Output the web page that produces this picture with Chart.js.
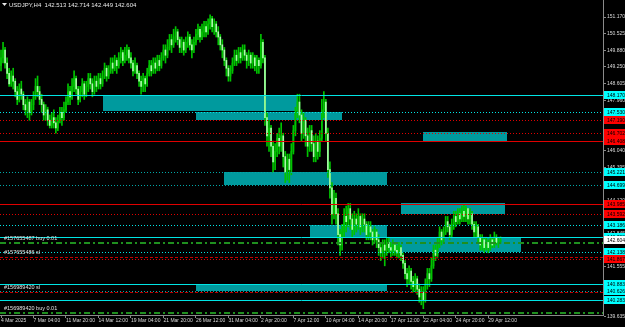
<!DOCTYPE html>
<html><head><meta charset="utf-8">
<script src="https://cdn.jsdelivr.net/npm/chart.js@4.4.1/dist/chart.umd.min.js"></script>
<style>html,body{margin:0;padding:0;background:#000;overflow:hidden}canvas{display:block}</style>
</head><body>
<canvas id="c" width="625" height="327"></canvas>
<script>
// ---------- DATA ----------
const symbolTitle = "USDJPY,H4";
const lastOHLC = [142.513, 142.714, 142.449, 142.604];
const xTickLabels = ["4 Mar 2025","7 Mar 04:00","11 Mar 20:00","14 Mar 12:00","19 Mar 04:00","21 Mar 20:00","26 Mar 12:00","31 Mar 04:00","2 Apr 20:00","7 Apr 12:00","10 Apr 04:00","14 Apr 20:00","17 Apr 12:00","22 Apr 04:00","24 Apr 20:00","29 Apr 12:00"];
const yTickValues = [151.170,150.525,149.880,149.250,148.605,147.960,147.330,146.685,146.040,145.395,144.765,144.120,143.475,142.845,142.200,141.555,140.910,140.280,139.635];

const opens = [149.3,149.6,149.9,149.4,149.0,148.6,148.9,148.7,148.3,148.0,148.4,148.2,147.8,147.6,147.9,147.5,
147.8,148.1,148.5,148.3,148.0,147.8,147.4,147.6,147.2,147.0,147.3,147.1,146.9,147.2,147.5,147.3,
147.6,147.9,148.3,148.1,148.5,148.8,148.4,148.0,148.3,148.6,148.2,148.5,148.8,148.6,148.3,148.7,
148.5,148.8,148.6,148.9,149.2,148.9,149.1,149.4,149.2,149.5,149.3,149.6,149.8,149.5,149.7,149.9,
149.6,149.4,149.1,149.3,149.0,148.7,148.5,148.8,148.6,149.0,149.3,149.1,149.4,149.2,149.5,149.3,
149.6,149.9,149.7,150.0,150.3,150.1,150.4,150.6,150.3,150.0,150.2,149.9,150.2,150.4,150.1,149.9,
150.2,150.5,150.7,150.4,150.6,150.8,150.6,150.9,151.1,150.8,150.9,150.6,150.4,150.1,149.9,149.5,
149.2,148.9,149.1,149.4,149.7,149.5,149.8,149.6,149.9,149.7,149.5,149.7,149.4,149.6,149.3,149.5,
149.3,150.2,149.6,147.3,146.6,146.9,146.2,145.6,146.0,146.5,146.2,146.6,145.8,145.2,145.7,145.3,
146.0,146.8,147.5,147.9,147.4,146.7,147.2,146.6,146.2,146.8,146.3,145.8,146.4,146.0,146.5,147.6,
147.9,146.7,145.3,144.6,143.6,144.2,143.6,142.8,142.4,142.9,143.5,143.3,143.8,143.4,143.0,143.4,
143.2,143.5,143.1,143.4,143.2,142.8,143.1,142.9,142.6,142.9,142.6,142.3,142.1,142.4,142.2,142.5,
142.3,142.2,142.4,142.2,142.1,142.3,142.0,141.7,141.3,141.1,141.4,141.0,140.8,141.1,140.7,140.4,
140.6,140.3,140.9,141.3,141.1,141.6,142.2,142.0,142.5,142.9,142.6,142.9,143.3,143.1,142.8,143.2,
143.5,143.3,143.6,143.4,143.7,143.5,143.8,143.4,143.6,143.2,142.9,143.1,142.7,142.4,142.6,142.3,
142.5,142.3,142.6,142.4,142.7,142.5,142.513];

const highs = [149.9,150.2,150.0,149.6,149.2,149.1,149.2,148.8,148.5,148.6,148.7,148.3,148.0,148.1,148.0,148.0,
148.3,148.8,148.9,148.5,148.2,147.9,147.8,147.7,147.4,147.5,147.6,147.3,147.4,147.7,147.7,147.9,
148.1,148.6,148.5,148.8,149.1,148.9,148.5,148.5,148.8,148.7,148.7,149.0,149.0,148.8,148.9,148.9,
149.0,149.0,149.1,149.4,149.3,149.3,149.6,149.6,149.7,149.6,149.8,150.0,149.9,150.0,150.1,150.0,
149.8,149.5,149.6,149.4,149.1,148.9,149.0,148.9,149.2,149.5,149.5,149.6,149.6,149.7,149.7,149.8,
150.1,150.1,150.3,150.5,150.5,150.7,150.8,150.7,150.4,150.4,150.3,150.4,150.6,150.5,150.3,150.4,
150.7,150.9,150.8,150.9,151.0,151.0,151.1,151.25,151.2,151.1,151.0,150.8,150.5,150.3,150.0,149.6,
149.3,149.3,149.6,149.9,149.9,150.0,150.0,150.1,150.1,149.8,149.9,149.8,149.8,149.7,149.7,149.6,
150.5,150.3,149.7,147.5,147.2,147.0,146.4,146.3,146.7,146.9,147.1,146.7,146.0,145.9,145.9,146.3,
147.0,147.7,148.2,148.2,147.6,147.5,147.3,146.9,147.0,147.0,146.6,146.7,146.6,146.8,148.0,148.3,
148.0,146.9,145.6,144.8,144.5,144.4,143.8,143.0,143.2,143.8,143.9,144.0,144.0,143.6,143.7,143.6,
143.8,143.6,143.6,143.6,143.3,143.3,143.3,143.0,143.1,143.0,142.8,142.5,142.6,142.6,142.7,142.7,
142.5,142.6,142.5,142.4,142.5,142.4,142.1,141.8,141.5,141.6,141.5,141.2,141.3,141.2,140.9,140.8,
140.8,141.1,141.5,141.5,141.9,142.4,142.4,142.7,143.1,143.0,143.1,143.5,143.5,143.2,143.4,143.7,
143.7,143.8,143.8,143.9,143.95,143.9,143.8,143.8,143.7,143.3,143.3,143.2,142.8,142.8,142.7,142.7,
142.6,142.8,142.7,142.9,142.8,142.7,142.714];

const lows = [149.1,149.4,149.2,148.8,148.5,148.5,148.4,148.1,147.8,147.9,148.0,147.6,147.4,147.3,147.2,147.4,
147.6,148.0,148.1,147.8,147.5,147.2,147.2,147.0,146.9,146.9,146.9,146.7,146.8,147.1,147.0,147.2,
147.5,147.8,147.8,148.0,148.3,148.2,147.8,147.9,148.1,148.0,148.1,148.3,148.4,148.1,148.2,148.3,
148.4,148.4,148.5,148.8,148.7,148.8,149.0,149.0,149.1,149.0,149.2,149.4,149.3,149.4,149.5,149.4,
149.2,148.9,149.0,148.8,148.5,148.2,148.3,148.3,148.5,148.9,148.9,149.0,149.0,149.1,149.1,149.2,
149.5,149.4,149.6,149.9,149.8,150.0,150.2,150.1,149.8,149.8,149.7,149.8,150.0,149.9,149.6,149.8,
150.1,150.3,150.2,150.3,150.4,150.4,150.5,150.7,150.6,150.5,150.4,150.1,149.9,149.6,149.3,148.9,
148.7,148.7,149.0,149.3,149.3,149.4,149.4,149.5,149.5,149.2,149.3,149.2,149.2,149.1,149.0,149.0,
149.2,149.4,147.0,146.2,146.0,145.8,145.2,145.3,145.8,145.9,146.0,145.4,144.8,144.9,144.8,145.1,
145.9,146.6,147.3,147.1,146.4,146.5,146.2,145.8,146.0,146.0,145.6,145.6,145.7,145.8,146.4,147.3,
146.4,145.0,144.2,143.2,143.4,143.2,142.4,142.0,142.2,142.7,142.9,143.1,143.0,142.7,142.8,142.9,
143.0,142.8,142.9,142.9,142.6,142.6,142.6,142.4,142.5,142.3,142.0,141.8,141.9,141.6,142.0,142.1,
141.9,142.0,142.0,141.9,141.9,141.8,141.5,141.1,140.8,140.9,140.7,140.6,140.6,140.5,140.2,140.1,
139.95,140.2,140.7,140.8,141.0,141.5,141.8,141.9,142.3,142.4,142.5,142.8,142.9,142.6,142.7,143.0,
143.1,143.2,143.2,143.3,143.3,143.3,143.2,143.2,143.0,142.7,142.7,142.5,142.2,142.2,142.1,142.2,
142.1,142.2,142.3,142.3,142.4,142.3,142.449];

const closes = [149.6,149.9,149.4,149.0,148.6,148.9,148.7,148.3,148.0,148.4,148.2,147.8,147.6,147.9,147.5,147.8,
148.1,148.5,148.3,148.0,147.8,147.4,147.6,147.2,147.0,147.3,147.1,146.9,147.2,147.5,147.3,147.6,
147.9,148.3,148.1,148.5,148.8,148.4,148.0,148.3,148.6,148.2,148.5,148.8,148.6,148.3,148.7,148.5,
148.8,148.6,148.9,149.2,148.9,149.1,149.4,149.2,149.5,149.3,149.6,149.8,149.5,149.7,149.9,149.6,
149.4,149.1,149.3,149.0,148.7,148.5,148.8,148.6,149.0,149.3,149.1,149.4,149.2,149.5,149.3,149.6,
149.9,149.7,150.0,150.3,150.1,150.4,150.6,150.3,150.0,150.2,149.9,150.2,150.4,150.1,149.9,150.2,
150.5,150.7,150.4,150.6,150.8,150.6,150.9,151.1,150.8,150.9,150.6,150.4,150.1,149.9,149.5,149.2,
148.9,149.1,149.4,149.7,149.5,149.8,149.6,149.9,149.7,149.5,149.7,149.4,149.6,149.3,149.5,149.3,
150.2,149.6,147.3,146.6,146.9,146.2,145.6,146.0,146.5,146.2,146.6,145.8,145.2,145.7,145.3,146.0,
146.8,147.5,147.9,147.4,146.7,147.2,146.6,146.2,146.8,146.3,145.8,146.4,146.0,146.5,147.6,147.9,
146.7,145.3,144.6,143.6,144.2,143.6,142.8,142.4,142.9,143.5,143.3,143.8,143.4,143.0,143.4,143.2,
143.5,143.1,143.4,143.2,142.8,143.1,142.9,142.6,142.9,142.6,142.3,142.1,142.4,142.2,142.5,142.3,
142.2,142.4,142.2,142.1,142.3,142.0,141.7,141.3,141.1,141.4,141.0,140.8,141.1,140.7,140.4,140.6,
140.3,140.9,141.3,141.1,141.6,142.2,142.0,142.5,142.9,142.6,142.9,143.3,143.1,142.8,143.2,143.5,
143.3,143.6,143.4,143.7,143.5,143.8,143.4,143.6,143.2,142.9,143.1,142.7,142.4,142.6,142.3,142.5,
142.3,142.6,142.4,142.7,142.5,142.513,142.604];

// zones (rectangles): start bar, end bar, upper price, lower price
const zoneStart = [50, 96, 208, 110, 197, 152, 191, 96];
const zoneEnd   = [146, 168, 249, 190, 248, 190, 256, 190];
const zoneHigh  = [148.170, 147.500, 146.750, 145.221, 144.000, 143.186, 142.702, 140.920];
const zoneLow   = [147.560, 147.200, 146.420, 144.699, 143.592, 142.702, 142.138, 140.626];

// horizontal levels
const levelPrices = [148.170,147.530,147.190,146.702,146.408,145.221,144.699,143.985,143.592,143.186,142.702,142.138,141.867,140.883,140.626,140.283];
const levelKinds  = ["cs","cd","rd","rd","rs","td","td","rs","rd","cd","cs","cd","rd","cs","td","cs"];

// orders
const orderNames  = ["#157655487 buy 0.01","#157655486 sl","#156989420 sl","#156989420 buy 0.01"];
const orderPrices = [142.480, 141.940, 140.590, 139.790];
const orderKinds  = ["buy","sl","sl","buy"];

// price tags on axis
const tagPrices = [148.170,147.530,147.190,146.702,146.408,145.221,144.699,143.985,143.592,143.186,142.702,142.604,142.138,141.867,140.883,140.626,140.283];
const tagKinds  = ["c","c","r","r","r","c","c","r","r","c","c","w","c","r","c","c","c"];

// ---------- CHART ----------
const NSLOTS = 297;
const labels = [];
for (let i = 0; i < NSLOTS; i++) labels.push(i % 16 === 0 && xTickLabels[i/16] ? xTickLabels[i/16] : '');

const FONT = "'Liberation Sans', Arial, sans-serif";
const COL = {
  c: '#00e5e5', t: '#00a7a7', r: '#e00000', zone: '#009a9e',
  axis: '#8a8a8a', text: '#d8d8d8',
  wick: '#00c400', bull: '#00c400', bear: '#a8ffa8'
};

const PX0 = 17, P0 = 151.17, K = 26.0; // intended mapping
const yMax = P0 + PX0 / K;
const yMin = P0 - (315 - PX0) / K;

const overlay = {
  id: 'overlay',
  beforeDatasetsDraw(chart) {
    const {ctx, chartArea: a, scales: {x, y}} = chart;
    ctx.save();
    ctx.beginPath(); ctx.rect(a.left, a.top, a.right - a.left, a.bottom - a.top); ctx.clip();
    ctx.fillStyle = COL.zone;
    for (let i = 0; i < zoneStart.length; i++) {
      const x1 = Math.round(x.getPixelForValue(zoneStart[i]));
      const x2 = Math.round(x.getPixelForValue(zoneEnd[i]));
      const y1 = Math.round(y.getPixelForValue(zoneHigh[i]));
      const y2 = Math.round(y.getPixelForValue(zoneLow[i]));
      ctx.fillRect(x1, y1, x2 - x1, y2 - y1);
    }
    ctx.restore();
  },
  afterDatasetsDraw(chart) {
    const {ctx, chartArea: a, scales: {x, y}} = chart;
    ctx.save();
    ctx.beginPath(); ctx.rect(a.left, a.top, a.right - a.left, a.bottom - a.top); ctx.clip();
    const hline = (p, color, dash, w) => {
      const yy = Math.round(y.getPixelForValue(p)) + (w % 2 ? 0.5 : 0);
      ctx.strokeStyle = color; ctx.lineWidth = w; ctx.setLineDash(dash);
      ctx.beginPath(); ctx.moveTo(a.left, yy); ctx.lineTo(a.right, yy); ctx.stroke();
    };
    levelPrices.forEach((p, i) => {
      const k = levelKinds[i];
      const color = k[0] === 'c' ? COL.c : k[0] === 't' ? COL.t : COL.r;
      hline(p, color, k[1] === 'd' ? [1, 2] : [], 1);
    });
    ctx.font = '5.5px ' + FONT;
    ctx.textBaseline = 'bottom';
    orderPrices.forEach((p, i) => {
      if (orderKinds[i] === 'buy') hline(p, '#1f8f1f', [6, 3, 2, 3], 2);
      else hline(p, '#c00000', [3, 2], 1);
      ctx.fillStyle = '#e0e0e0';
      ctx.fillText(orderNames[i], a.left + 4, Math.round(y.getPixelForValue(p)) - 2);
    });
    ctx.restore();
  },
  afterDraw(chart) {
    const {ctx, chartArea: a, scales: {y}} = chart;
    ctx.save();
    ctx.font = '5px ' + FONT;
    ctx.textBaseline = 'middle';
    tagPrices.forEach((p, i) => {
      const yy = Math.round(y.getPixelForValue(p));
      const k = tagKinds[i];
      ctx.fillStyle = k === 'c' ? '#00ffff' : k === 'r' ? '#ff0000' : '#ffffff';
      ctx.fillRect(a.right + 1, yy - 4, 22, 8);
      ctx.fillStyle = '#000';
      ctx.fillText(p.toFixed(3), a.right + 4, yy + 0.5);
    });
    // header
    ctx.fillStyle = '#e8e8e8';
    ctx.beginPath(); ctx.moveTo(2, 3); ctx.lineTo(7, 3); ctx.lineTo(4.5, 6); ctx.closePath(); ctx.fill();
    ctx.font = '6px ' + FONT;
    ctx.textBaseline = 'middle';
    ctx.fillText(symbolTitle + '  ' + lastOHLC.map(v => v.toFixed(3)).join(' '), 9, 5);
    ctx.restore();
  }
};

new Chart(document.getElementById('c'), {
  type: 'bar',
  data: {
    labels,
    datasets: [
      { label: 'wick', data: lows.map((l, i) => [l, highs[i]]), backgroundColor: COL.wick, barThickness: 1, grouped: false, order: 2 },
      { label: 'body', data: opens.map((o, i) => [o, closes[i]]),
        backgroundColor: opens.map((o, i) => closes[i] >= o ? COL.bull : COL.bear), barThickness: 1, grouped: false, order: 1 }
    ]
  },
  options: {
    responsive: false, animation: false, devicePixelRatio: 1,
    layout: { padding: 0 },
    plugins: { legend: { display: false }, tooltip: { enabled: false } },
    scales: {
      x: {
        type: 'category', offset: true,
        grid: { display: true, drawOnChartArea: false, drawTicks: true, tickLength: 3, offset: false, color: COL.axis },
        border: { display: true, color: COL.axis },
        ticks: { autoSkip: false, maxRotation: 0, minRotation: 0, align: 'start', padding: 0,
                 color: COL.text, font: { size: 5, family: FONT },
                 callback: (v, i) => labels[i] ? labels[i] : null },
        afterFit: s => { s.height = 12; s.paddingLeft = 0; s.paddingRight = 0; }
      },
      y: {
        position: 'right', min: yMin, max: yMax,
        afterBuildTicks: s => { s.ticks = yTickValues.map(v => ({ value: v })); },
        grid: { display: true, drawOnChartArea: false, tickLength: 3, color: COL.axis },
        border: { display: true, color: COL.axis },
        ticks: { color: COL.text, font: { size: 5, family: FONT }, padding: 1, callback: v => Number(v).toFixed(3) },
        afterFit: s => { s.width = 22; s.paddingTop = 0; s.paddingBottom = 0; }
      }
    }
  },
  plugins: [overlay]
});
</script>
</body></html>
